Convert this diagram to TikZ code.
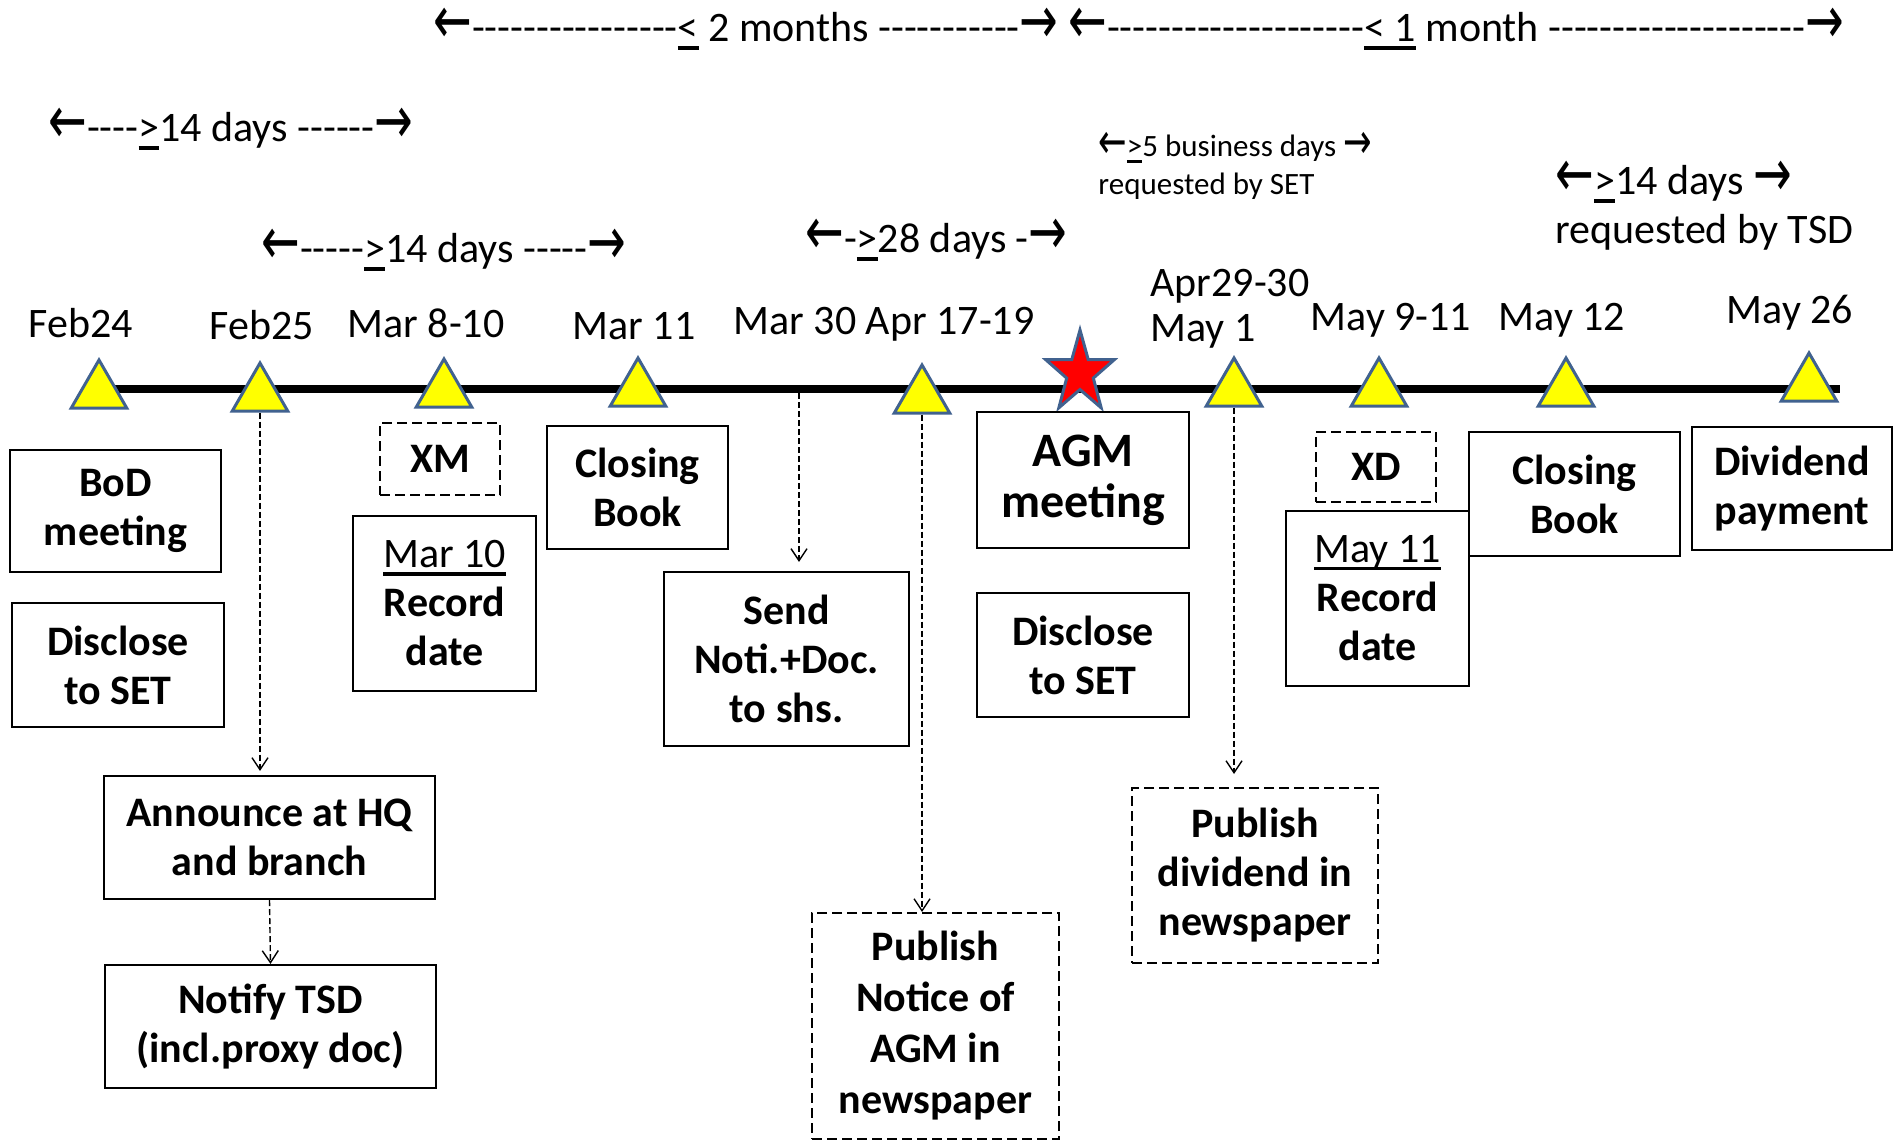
\documentclass[tikz,border=0pt]{standalone}
\usepackage{fontspec}
\setmainfont{Carlito}
\newfontfamily\arrowfont{DejaVu Sans}
\usepackage{graphicx}
\usetikzlibrary{positioning,arrows.meta,shapes.geometric}

\definecolor{triblue}{HTML}{41628F}
\definecolor{triyellow}{HTML}{FFFF00}
\definecolor{starred}{HTML}{FF0000}

% arrows, dashes and underlined signs as typed in the slide
\newcommand{\lar}{{\arrowfont\raisebox{-0.04em}{\scalebox{1.1}[1.6]{←}}}}
\newcommand{\rar}{{\arrowfont\raisebox{-0.04em}{\scalebox{1.1}[1.6]{→}}}}
\newcount\dshn
\newcommand{\dsh}[1]{\dshn=0 \loop\ifnum\dshn<#1 \advance\dshn by 1 -\kern0pt\repeat}
\newcommand{\uln}[1]{\setbox0\hbox{#1}\rlap{\vrule width\wd0 height -0.105em depth 0.18em}\box0\relax}

\tikzset{
  date/.style={font=\fontsize{21}{22.5}\selectfont, inner sep=0pt},
  span/.style={font=\fontsize{21}{24.5}\selectfont, inner sep=0pt, anchor=base west, align=left},
  smallspan/.style={font=\fontsize{15.5}{19}\selectfont, inner sep=0pt, anchor=base west, align=left},
  tri/.style={regular polygon, regular polygon sides=3, minimum size=32pt, inner sep=0pt,
    fill=triyellow, draw=triblue, line width=1.5pt},
  agmstar/.style={fill=starred, draw=triblue, line width=1.5pt, line join=miter},
  box/.style 2 args={draw, line width=1.1pt, minimum width=#1*0.5pt, minimum height=#2*0.5pt,
    align=center, inner sep=0pt, font=\fontsize{21}{24.5}\selectfont\bfseries},
  dbox/.style 2 args={box={#1}{#2}, line width=1pt, dash pattern=on 5pt off 2.5pt},
  link/.style={-{Straight Barb[length=6pt,width=8pt]}, line width=0.7pt, dash pattern=on 3pt off 1.5pt},
}

\begin{document}
\begin{tikzpicture}[x=0.5pt,y=-0.5pt]
    \path[use as bounding box, fill=white] (0,0) rectangle (1898,1144);

    % draw horizontal line
    \draw[line width=4pt] (100,389) -- (1840,389);
    \coordinate (m30) at (799,393);

    % draw date markers
    \foreach \n/\x/\y in {1/99/392,2/260/395,3/444/391,4/638/390,5/922/397,6/1234/390,7/1379/390,8/1566/390,9/1809/385}
    \node[tri] (t\n) at (\x,\y) {};

    % draw AGM star
    \filldraw[agmstar, shift={(1080,373)}] (-90:36 and 43) -- (-54:14 and 16.5) -- (-18:36 and 43)
      -- (18:14 and 16.5) -- (54:36 and 43) -- (90:14 and 16.5) -- (126:36 and 43)
      -- (162:14 and 16.5) -- (198:36 and 43) -- (234:14 and 16.5) -- cycle;

    % draw dates
    \node[date, anchor=base] (lfeb24) at (81,337) {Feb24};
    \node[date, anchor=base] (lfeb25) at (262,340) {Feb25};
    \node[date, anchor=base] (lmar8) at (426,337) {Mar 8-10};
    \node[date, anchor=base] (lmar11) at (634,340) {Mar 11};
    \node[date, anchor=base] (lapr17) at (884,335) {Mar 30 Apr 17-19};
    \node[date, anchor=base west, align=left] (lapr29) at (1150,342) {Apr29-30\\May 1};
    \node[date, anchor=base] (lmay9) at (1391,330) {May 9-11};
    \node[date, anchor=base] (lmay12) at (1562,330) {May 12};
    \node[date, anchor=base] (lmay26) at (1790,323) {May 26};

    % draw periods
    \node[span] (p2m) at (433,42) {\lar\dsh{16}\uln{<} 2 months \dsh{11}\rar};
    \node[span] (p1m) at (1068,42) {\lar\dsh{20}\uln{< 1} month \dsh{20}\rar};
    \node[span] (p14a) at (48,142) {\lar\dsh{4}\uln{>}14 days \dsh{6}\rar};
    \node[span] (p14b) at (261,263) {\lar\dsh{5}\uln{>}14 days \dsh{5}\rar};
    \node[span] (p28) at (805,253) {\lar-\uln{>}28 days -\rar};
    \node[smallspan] (pset) at (1098,195) {\lar\uln{>}5 business days \rar\\requested by SET};
    \node[span] (ptsd) at (1555,244) {\lar\uln{>}14 days \rar\\requested by TSD};

    % draw boxes
    \node[box={211}{122}] (bod) at (115.5,511) {BoD\\meeting};
    \node[box={212}{124}] (setA) at (118,665) {Disclose\\to SET};
    \node[dbox={120}{72}] (xm) at (440,459) {XM};
    \node[box={183}{175}] (recA) at (444.5,603.5) {{\mdseries\uln{Mar 10}}\\Record\\date};
    \node[box={181}{123}] (closeA) at (637.5,487.5) {Closing\\Book};
    \node[box={245}{174}] (send) at (786.5,659) {Send\\Noti.+Doc.\\to shs.};
    \node[box={331}{123}] (announce) at (269.5,837.5) {Announce at HQ\\and branch};
    \node[box={331}{123}] (notify) at (270.5,1026.5) {Notify TSD\\(incl.proxy doc)};
    \node[dbox={247}{226}, font=\fontsize{21}{25.5}\selectfont\bfseries] (pubagm) at (935.5,1026) {Publish\\Notice of\\AGM in\\newspaper};
    \node[box={212}{136}, font=\fontsize{24}{25.5}\selectfont\bfseries] (agm) at (1083,480) {AGM\\meeting};
    \node[box={212}{124}] (setB) at (1083,655) {Disclose\\to SET};
    \node[dbox={120}{70}] (xd) at (1376,467) {XD};
    \node[box={183}{175}] (recB) at (1377.5,598.5) {{\mdseries\uln{May 11}}\\Record\\date};
    \node[box={211}{124}] (closeB) at (1574.5,494) {Closing\\Book};
    \node[box={200}{123}] (divpay) at (1792,488.5) {Dividend\\payment};
    \node[dbox={246}{175}] (pubdiv) at (1255,875.5) {Publish\\dividend in\\newspaper};

    % draw links
    \draw[link, shorten >=2pt] (t2.south) -- (t2.south |- announce.north);
    \draw[link] (announce.south) -- (notify.north);
    \draw[link, shorten >=4.5pt] (m30) -- (m30 |- send.north);
    \draw[link] (t5.south) -- (t5.south |- pubagm.north);
    \draw[link, shorten >=6.5pt] (t6.south) -- (t6.south |- pubdiv.north);
\end{tikzpicture}
\end{document}
